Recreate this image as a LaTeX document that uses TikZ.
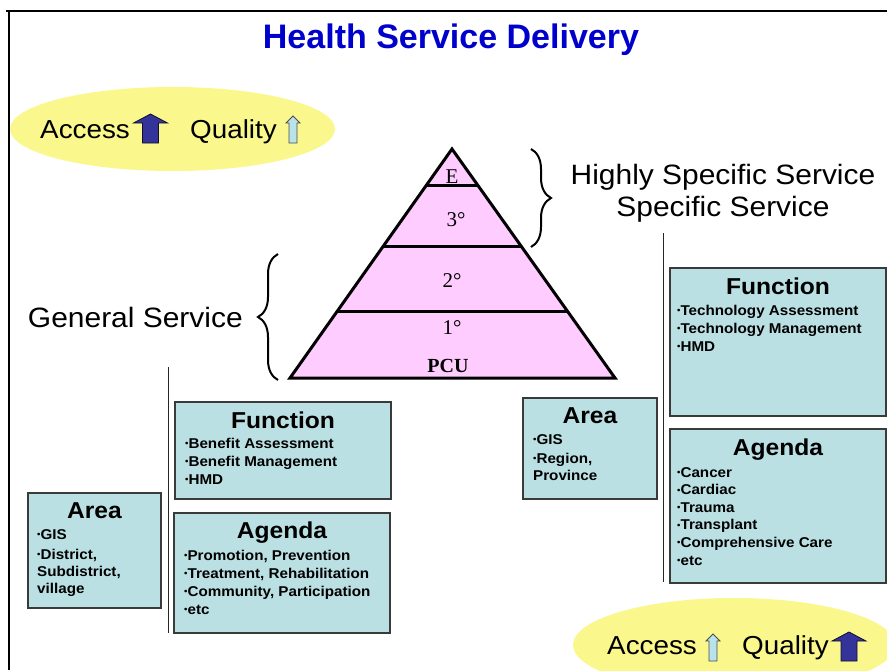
\documentclass[tikz,border=0pt]{standalone}
\usepackage{fontspec}
\setmainfont{Liberation Sans}
\newfontfamily\wsans[FakeStretch=1.07]{Liberation Sans}
\newfontfamily\tserif{Liberation Serif}
\usetikzlibrary{shapes.geometric,decorations.pathreplacing}
\definecolor{boxfill}{HTML}{BBE0E3}
\definecolor{boxline}{HTML}{3A3A3A}
\definecolor{ellfill}{HTML}{FAF78C}
\definecolor{pyrfill}{HTML}{FFCCFF}
\definecolor{titleblue}{HTML}{0000CC}
\definecolor{darkarr}{HTML}{333399}
\definecolor{lightarr}{HTML}{B9E3EA}
\newcommand\itembul{\raisebox{1.6pt}{\fontsize{9}{9}\selectfont •}}
\newcommand\itemlist[1]{\begin{tabular}[t]{@{}l@{}}#1\end{tabular}}
\begin{document}
\begin{tikzpicture}[x=1pt,y=-1pt,
  infobox/.style={draw=boxline, line width=1.3pt, fill=boxfill, rectangle, inner sep=0pt},
  boxtitle/.style={anchor=base, inner sep=0pt, font=\wsans\bfseries\fontsize{23}{26}\selectfont},
  boxitems/.style={anchor=base west, inner sep=0pt, font=\wsans\bfseries\fontsize{14.2}{18}\selectfont},
  bigtext/.style={anchor=base, inner sep=0pt, font=\wsans\fontsize{28}{34}\selectfont},
  aqtext/.style={anchor=base west, inner sep=0pt, font=\wsans\fontsize{26}{30}\selectfont},
  pyrlabel/.style={anchor=base, inner sep=0pt, font=\tserif\fontsize{21}{24}\selectfont},
  ellbox/.style={ellipse, fill=ellfill, draw=none, inner sep=0pt},
  frameline/.style={line width=2.5pt, black},
  sepline/.style={line width=1pt, black!85},
  bracestyle/.style={line width=2pt, decorate, decoration={brace, amplitude=20pt}},
  pyrline/.style={line width=3pt, black, line join=miter},
  darkarrow/.pic={\filldraw[fill=darkarr, draw=black!70!darkarr, line width=0.8pt]
     (-8,0) -- (8,0) -- (8,-20) -- (17,-20) -- (0,-29) -- (-17,-20) -- (-8,-20) -- cycle;},
  lightarrow/.pic={\filldraw[fill=lightarr, draw=black!70, line width=0.8pt]
     (-4,0) -- (4,0) -- (4,-20) -- (7,-20) -- (0,-27) -- (-7,-20) -- (-4,-20) -- cycle;}
]
\useasboundingbox (0,0) rectangle (887,670);
\clip (0,0) rectangle (887,670);
\fill[white] (0,0) rectangle (887,670);

% frame
\coordinate (ftl) at (9,11);
\coordinate (ftr) at (887,11);
\coordinate (fbl) at (9,670);
\draw[frameline] (6,11) -- (ftr);

% title
\node[anchor=base, inner sep=0pt, text=titleblue, font=\bfseries\fontsize{34}{36}\selectfont] (title) at (451,48) {Health Service Delivery};

% ellipses
\node[ellbox, minimum width=325pt, minimum height=84pt] (ell1) at (172.5,129) {};
\node[ellbox, minimum width=322pt, minimum height=94pt] (ell2) at (734,645) {};
\draw[frameline] (ftl) -- (fbl);

\node[aqtext] (acc1) at (40,138) {Access};
\pic at (150.5,143) {darkarrow};
\node[aqtext] (qual1) at (190,138) {Quality};
\pic at (293,143) {lightarrow};

\node[aqtext] (acc2) at (607,654) {Access};
\pic at (713,661) {lightarrow};
\node[aqtext] (qual2) at (742,654) {Quality};
\pic at (849,661) {darkarrow};

% pyramid
\filldraw[pyrline, fill=pyrfill] (452,149) -- (615,378) -- (290,378) -- cycle;
\draw[pyrline] (426.5,185) -- (477.5,185);
\draw[pyrline] (383.4,246) -- (520.6,246);
\draw[pyrline] (337.4,311) -- (566.6,311);
\node[pyrlabel] (le) at (452,183) {E};
\node[pyrlabel] (l3) at (456,226) {3°};
\node[pyrlabel] (l2) at (452,287) {2°};
\node[pyrlabel] (l1) at (452,334) {1°};
\node[pyrlabel, font=\tserif\bfseries\fontsize{20}{24}\selectfont] (pcu) at (448,372) {PCU};

% braces
\draw[bracestyle] (531,149) -- (531,247);
\draw[bracestyle] (278,380) -- (278,254);

\node[bigtext] (hss) at (723,184) {Highly Specific Service};
\node[bigtext] (ss) at (723,216) {Specific Service};
\node[bigtext, anchor=base east] (gs) at (243,327) {General Service};

% separator lines
\coordinate (s1a) at (168,367);
\coordinate (s1b) at (168,633);
\coordinate (s2a) at (663,233);
\coordinate (s2b) at (663,582);
\draw[sepline] (s1a) -- (s1b);
\draw[sepline] (s2a) -- (s2b);

% left boxes
\node[infobox, minimum width=216pt, minimum height=97pt] (lfun) at (283,450.5) {};
\node[boxtitle] (lfunt) at (283,428) {Function};
\node[boxitems] (lfuni) at (185,448) {\itemlist{\itembul Benefit Assessment\\\itembul Benefit Management\\\itembul HMD}};

\node[infobox, minimum width=216pt, minimum height=120pt] (lage) at (282,573) {};
\node[boxtitle] (laget) at (282,538) {Agenda};
\node[boxitems] (lagei) at (184,560) {\itemlist{\itembul Promotion, Prevention\\\itembul Treatment, Rehabilitation\\\itembul Community, Participation\\\itembul etc}};

\node[infobox, minimum width=133pt, minimum height=115pt] (lare) at (94.5,550.5) {};
\node[boxtitle] (laret) at (94.5,518) {Area};
\node[boxitems, font=\wsans\bfseries\fontsize{14.2}{17}\selectfont] (larei) at (37,539) {\itemlist{\itembul GIS\\[3pt]\itembul District,\\Subdistrict,\\village}};

% right boxes
\node[infobox, minimum width=134pt, minimum height=101pt] (rare) at (590,448.5) {};
\node[boxtitle] (raret) at (590,423) {Area};
\node[boxitems, font=\wsans\bfseries\fontsize{14.2}{17}\selectfont] (rarei) at (533,444) {\itemlist{\itembul GIS\\[2pt]\itembul Region,\\Province}};

\node[infobox, minimum width=216pt, minimum height=148pt] (rfun) at (778,342) {};
\node[boxtitle] (rfunt) at (778,294) {Function};
\node[boxitems] (rfuni) at (677,315) {\itemlist{\itembul Technology Assessment\\\itembul Technology Management\\\itembul HMD}};

\node[infobox, minimum width=216pt, minimum height=154pt] (rage) at (778,506) {};
\node[boxtitle] (raget) at (778,455) {Agenda};
\node[boxitems, font=\wsans\bfseries\fontsize{14.2}{17.6}\selectfont] (ragei) at (677,477) {\itemlist{\itembul Cancer\\\itembul Cardiac\\\itembul Trauma\\\itembul Transplant\\\itembul Comprehensive Care\\\itembul etc}};
\end{tikzpicture}
\end{document}
